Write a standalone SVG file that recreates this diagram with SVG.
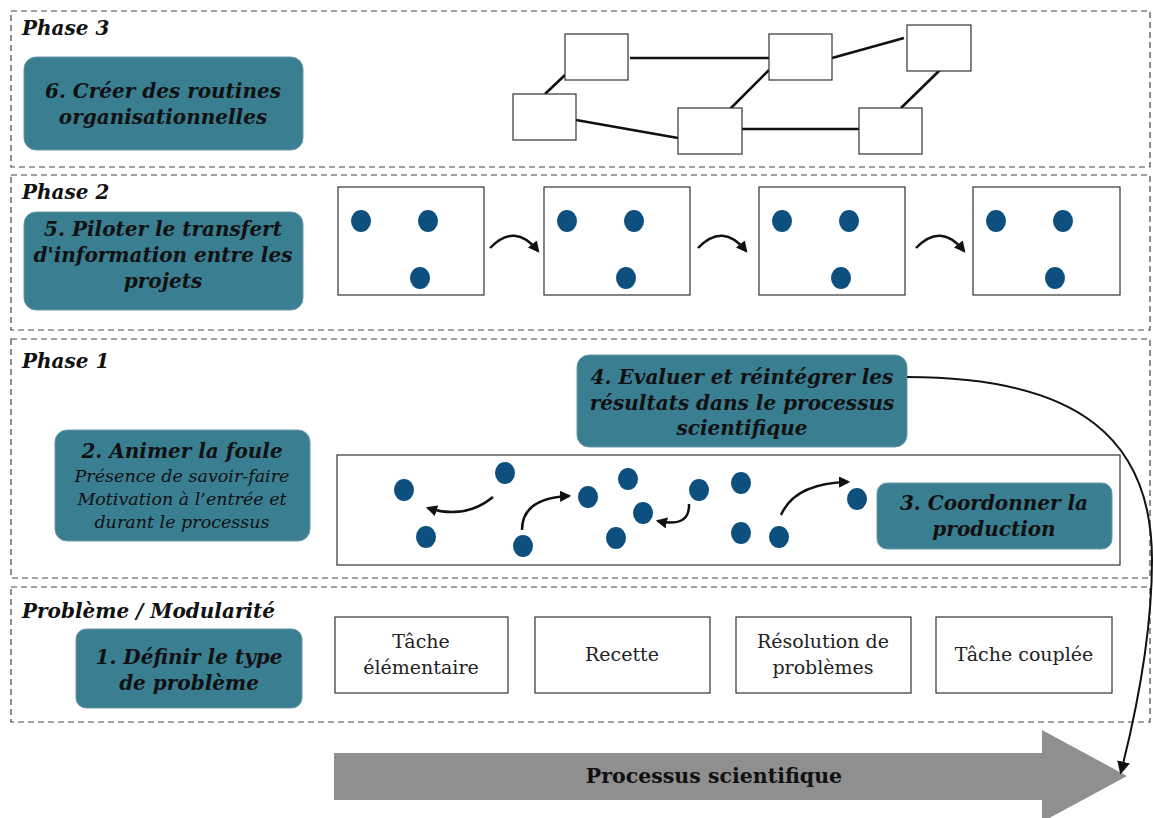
<svg xmlns="http://www.w3.org/2000/svg" width="1153" height="818" viewBox="0 0 1153 818">
<defs>
<style>
.zone{fill:none;stroke:#444;stroke-width:1.2;stroke-dasharray:6,4}
.teal{fill:#3a7e91;stroke:#6a9aa8;stroke-width:1}
.tt{font-family:"DejaVu Serif","Liberation Serif",serif;font-weight:bold;font-style:italic;font-size:20px;fill:#111;text-anchor:middle}
.sub{font-family:"DejaVu Serif","Liberation Serif",serif;font-style:italic;font-size:17.5px;fill:#111;text-anchor:middle}
.lbl{font-family:"DejaVu Serif","Liberation Serif",serif;font-weight:bold;font-style:italic;font-size:20px;fill:#111}
.wb{fill:#fff;stroke:#333;stroke-width:1.2}
.wt{font-family:"DejaVu Serif","Liberation Serif",serif;font-size:19px;fill:#222;text-anchor:middle}
.dot{fill:#0d4f7e}
.net{stroke:#111;stroke-width:2.6}
.arr{fill:none;stroke:#111;stroke-width:2.5;marker-end:url(#ah)}
</style>
<marker id="ah" viewBox="0 0 10 10" refX="8" refY="5" markerWidth="4.5" markerHeight="4.5" orient="auto" markerUnits="strokeWidth"><path d="M0,0 L10,5 L0,10 Z" fill="#111"/></marker>
<marker id="ah2" viewBox="0 0 10 10" refX="8" refY="5" markerWidth="6.5" markerHeight="6.5" orient="auto" markerUnits="strokeWidth"><path d="M0,0 L10,5 L0,10 Z" fill="#111"/></marker>
</defs>
<rect width="1153" height="818" fill="#fff"/>

<g id="zones">
<rect class="zone" x="11" y="11" width="1139" height="156"/>
<rect class="zone" x="11" y="175" width="1139" height="155"/>
<rect class="zone" x="11" y="339" width="1139" height="239"/>
<rect class="zone" x="11" y="587" width="1139" height="135"/>
<text class="lbl" x="22" y="35">Phase 3</text>
<text class="lbl" x="22" y="199">Phase 2</text>
<text class="lbl" x="22" y="368">Phase 1</text>
<text class="lbl" x="22" y="618">Problème / Modularité</text>
</g>

<g id="big-arrow">
<path d="M334,753 L1042,753 L1042,730 L1127,776 L1042,822 L1042,800 L334,800 Z" fill="#8f8f8f"/>
<text x="714" y="783" font-family="DejaVu Serif, Liberation Serif, serif" font-weight="bold" font-size="20.5" fill="#111" text-anchor="middle">Processus scientifique</text>
</g>

<g id="n6">
<rect class="teal" x="24" y="57" width="279" height="93" rx="12"/>
<text class="tt" x="163" y="98">6. Créer des routines</text>
<text class="tt" x="163" y="124">organisationnelles</text>
</g>

<g id="network">
<line class="net" x1="630" y1="58" x2="771" y2="58"/>
<line class="net" x1="545" y1="94" x2="565" y2="75"/>
<line class="net" x1="576" y1="120" x2="678" y2="138"/>
<line class="net" x1="730" y1="109" x2="769" y2="70"/>
<line class="net" x1="832" y1="58" x2="904" y2="38"/>
<line class="net" x1="742" y1="129" x2="861" y2="129"/>
<line class="net" x1="901" y1="108" x2="940" y2="70"/>
<rect class="wb" x="565" y="34" width="63" height="46"/>
<rect class="wb" x="513" y="94" width="63" height="46"/>
<rect class="wb" x="678" y="108" width="64" height="46"/>
<rect class="wb" x="769" y="34" width="63" height="46"/>
<rect class="wb" x="907" y="25" width="64" height="46"/>
<rect class="wb" x="859" y="108" width="63" height="46"/>
</g>

<g id="n5">
<rect class="teal" x="24" y="212" width="279" height="98" rx="12"/>
<text class="tt" x="163" y="236">5. Piloter le transfert</text>
<text class="tt" x="163" y="262">d'information entre les</text>
<text class="tt" x="163" y="288">projets</text>
</g>

<g id="frames">
<rect class="wb" x="338" y="187" width="146" height="108"/>
<ellipse class="dot" cx="361" cy="221" rx="10" ry="11"/>
<ellipse class="dot" cx="428" cy="221" rx="10" ry="11"/>
<ellipse class="dot" cx="420" cy="278" rx="10" ry="11"/>
<rect class="wb" x="544" y="187" width="146" height="108"/>
<ellipse class="dot" cx="567" cy="221" rx="10" ry="11"/>
<ellipse class="dot" cx="634" cy="221" rx="10" ry="11"/>
<ellipse class="dot" cx="626" cy="278" rx="10" ry="11"/>
<rect class="wb" x="759" y="187" width="146" height="108"/>
<ellipse class="dot" cx="782" cy="221" rx="10" ry="11"/>
<ellipse class="dot" cx="849" cy="221" rx="10" ry="11"/>
<ellipse class="dot" cx="841" cy="278" rx="10" ry="11"/>
<rect class="wb" x="973" y="187" width="147" height="108"/>
<ellipse class="dot" cx="996" cy="221" rx="10" ry="11"/>
<ellipse class="dot" cx="1063" cy="221" rx="10" ry="11"/>
<ellipse class="dot" cx="1055" cy="278" rx="10" ry="11"/>
</g>

<g id="n4">
<rect class="teal" x="577" y="355" width="330" height="92" rx="12"/>
<text class="tt" x="742" y="384">4. Evaluer et réintégrer les</text>
<text class="tt" x="742" y="410">résultats dans le processus</text>
<text class="tt" x="742" y="435">scientifique</text>
</g>

<g id="n2">
<rect class="teal" x="55" y="430" width="255" height="111" rx="12"/>
<text class="tt" x="182" y="458">2. Animer la foule</text>
<text class="sub" x="182" y="482">Présence de savoir-faire</text>
<text class="sub" x="182" y="505">Motivation à l’entrée et</text>
<text class="sub" x="182" y="528">durant le processus</text>
</g>

<g id="crowd">
<rect class="wb" x="337" y="455" width="783" height="110"/>
<ellipse class="dot" cx="404" cy="490" rx="10" ry="11"/>
<ellipse class="dot" cx="505" cy="473" rx="10" ry="11"/>
<ellipse class="dot" cx="426" cy="537" rx="10" ry="11"/>
<ellipse class="dot" cx="523" cy="546" rx="10" ry="11"/>
<ellipse class="dot" cx="588" cy="497" rx="10" ry="11"/>
<ellipse class="dot" cx="628" cy="479" rx="10" ry="11"/>
<ellipse class="dot" cx="643" cy="513" rx="10" ry="11"/>
<ellipse class="dot" cx="616" cy="538" rx="10" ry="11"/>
<ellipse class="dot" cx="699" cy="490" rx="10" ry="11"/>
<ellipse class="dot" cx="741" cy="483" rx="10" ry="11"/>
<ellipse class="dot" cx="741" cy="533" rx="10" ry="11"/>
<ellipse class="dot" cx="779" cy="537" rx="10" ry="11"/>
<ellipse class="dot" cx="857" cy="499" rx="10" ry="11"/>
</g>

<g id="n3">
<rect class="teal" x="877" y="483" width="235" height="66" rx="10"/>
<text class="tt" x="994" y="510">3. Coordonner la</text>
<text class="tt" x="994" y="536">production</text>
</g>

<g id="n1">
<rect class="teal" x="76" y="629" width="226" height="79" rx="10"/>
<text class="tt" x="189" y="664">1. Définir le type</text>
<text class="tt" x="189" y="690">de problème</text>
</g>

<g id="types">
<rect class="wb" x="335" y="617" width="173" height="76"/>
<text class="wt" x="421" y="648">Tâche</text>
<text class="wt" x="421" y="674">élémentaire</text>
<rect class="wb" x="535" y="617" width="175" height="76"/>
<text class="wt" x="622" y="661">Recette</text>
<rect class="wb" x="736" y="617" width="175" height="76"/>
<text class="wt" x="823" y="648">Résolution de</text>
<text class="wt" x="823" y="674">problèmes</text>
<rect class="wb" x="936" y="617" width="176" height="76"/>
<text class="wt" x="1024" y="661">Tâche couplée</text>
</g>

<g id="connectors">
<path class="arr" d="M490,248 Q515,222 538,251"/>
<path class="arr" d="M698,248 Q723,222 746,251"/>
<path class="arr" d="M916,248 Q941,222 964,251"/>
<path class="arr" d="M493,497 Q465,520 428,508"/>
<path class="arr" d="M522,530 Q522,498 569,496"/>
<path class="arr" d="M689,504 Q690,528 658,521"/>
<path class="arr" d="M781,515 Q795,483 848,482"/>
<path fill="none" stroke="#111" stroke-width="2" marker-end="url(#ah2)" d="M907,377 C1080,377 1152,440 1152,560 Q1152,650 1121,772"/>
</g>
</svg>
